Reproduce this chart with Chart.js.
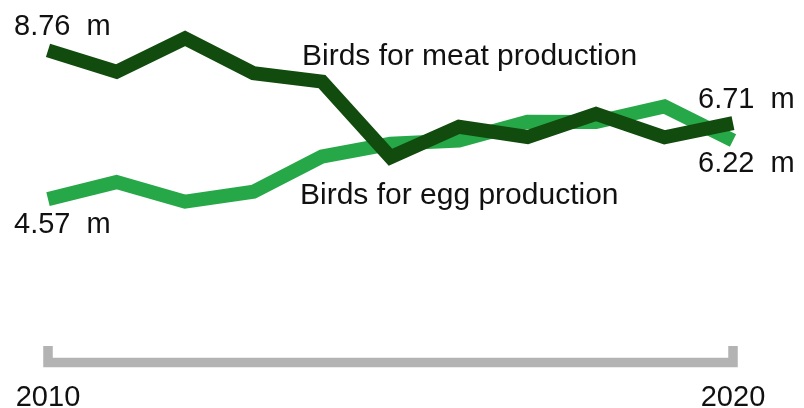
<!DOCTYPE html>
<html>
<head>
<meta charset="utf-8">
<title>Birds for meat and egg production</title>
<script src="https://cdn.jsdelivr.net/npm/chart.js@4.4.1/dist/chart.umd.min.js"></script>
<style>
    html, body { margin: 0; padding: 0; background: #fff; }
    #wrap { width: 804px; height: 408px; }
</style>
</head>
<body>
<div id="wrap"><canvas id="myChart" width="804" height="408"></canvas></div>
<script>
// Dados (milhões de aves)
const years = ['2010', '2011', '2012', '2013', '2014', '2015', '2016', '2017', '2018', '2019', '2020'];
const meatBirds = [8.76, 8.16, 9.10, 8.12, 7.88, 5.75, 6.61, 6.32, 6.97, 6.31, 6.71];
const eggBirds = [4.57, 5.05, 4.50, 4.78, 5.77, 6.13, 6.22, 6.75, 6.74, 7.18, 6.22];
const yearTicks = ['2010', '2020'];
const seriesNames = ['Birds for meat production', 'Birds for egg production'];

const FONT = '29px "Liberation Sans", Arial, sans-serif';
const NAME_FONT = '30px "Liberation Sans", Arial, sans-serif';

// Rótulos, colchete do eixo x e anos
const annotations = {
    id: 'annotations',
    afterDraw(chart) {
        const ctx = chart.ctx;
        const x = chart.scales.x;
        const xL = x.getPixelForValue(0);
        const xR = x.getPixelForValue(years.length - 1);

        // colchete cinza
        ctx.save();
        ctx.strokeStyle = '#b3b3b3';
        ctx.lineWidth = 9.5;
        ctx.lineJoin = 'miter';
        ctx.lineCap = 'butt';
        ctx.beginPath();
        ctx.moveTo(xL, 346);
        ctx.lineTo(xL, 362.5);
        ctx.lineTo(xR, 362.5);
        ctx.lineTo(xR, 346);
        ctx.stroke();

        ctx.font = FONT;
        ctx.fillStyle = '#111';
        ctx.textBaseline = 'alphabetic';

        // anos
        ctx.textAlign = 'center';
        ctx.fillText(yearTicks[0], xL, 406);
        ctx.fillText(yearTicks[1], xR, 406);

        // valores inicial e final
        ctx.textAlign = 'left';
        ctx.fillText(meatBirds[0].toFixed(2) + '  m', 14, 35);
        ctx.fillText(eggBirds[0].toFixed(2) + '  m', 14, 233);
        ctx.fillText(meatBirds[meatBirds.length - 1].toFixed(2) + '  m', xR - 35, 108);
        ctx.fillText(eggBirds[eggBirds.length - 1].toFixed(2) + '  m', xR - 35, 172);

        // nomes das séries
        ctx.font = NAME_FONT;
        ctx.fillText(seriesNames[0], 302, 65);
        ctx.fillText(seriesNames[1], 300, 204);
        ctx.restore();
    }
};

const ctx = document.getElementById('myChart').getContext('2d');
const myChart = new Chart(ctx, {
    type: 'line',
    data: {
        labels: years,
        datasets: [{
            label: seriesNames[0],
            data: meatBirds,
            borderColor: '#114b0d',
            borderWidth: 14,
            order: 0
        }, {
            label: seriesNames[1],
            data: eggBirds,
            borderColor: '#27a848',
            borderWidth: 14,
            order: 1
        }]
    },
    options: {
        responsive: false,
        animation: false,
        layout: {
            padding: { left: 48, right: 71, top: 0, bottom: 58 }
        },
        elements: {
            point: { radius: 0 },
            line: {
                tension: 0,
                borderJoinStyle: 'miter',
                borderCapStyle: 'butt'
            }
        },
        scales: {
            x: { display: false },
            y: { display: false, min: 0.32, max: 10.18 }
        },
        plugins: {
            legend: { display: false },  // legenda escrita direto no gráfico
            tooltip: { enabled: false }
        }
    },
    plugins: [annotations]
});
</script>
</body>
</html>
